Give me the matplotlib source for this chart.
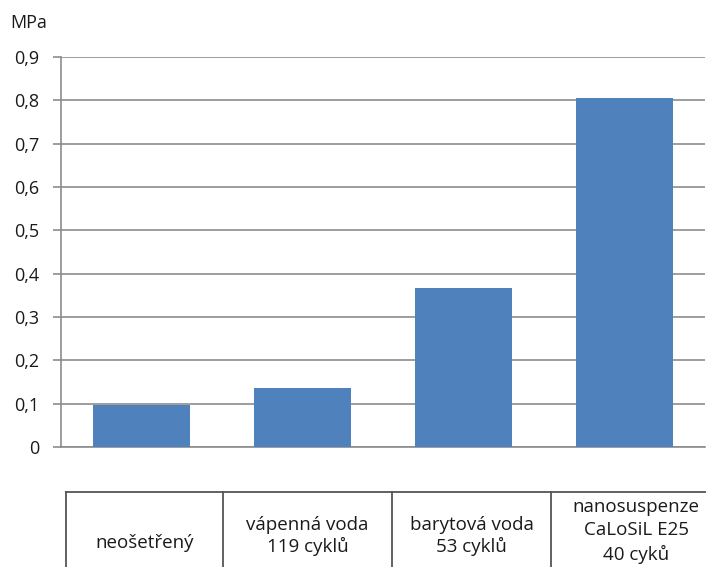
import matplotlib.pyplot as plt
from matplotlib.lines import Line2D
from matplotlib.ticker import FuncFormatter

plt.rcParams['font.family'] = ['Open Sans', 'DejaVu Sans']

categories = ["neošetřený", "vápenná voda\n119 cyklů", "barytová voda\n53 cyklů",
              "nanosuspenze\nCaLoSiL E25\n40 cyků"]
values = [0.097, 0.137, 0.366, 0.805]

W, H = 706, 567
fig = plt.figure(figsize=(W / 100, H / 100), dpi=100)
ax = fig.add_axes([61 / W, 120 / H, 644 / W, 390 / H])

x = range(len(values))
ax.bar(x, values, width=0.6, color="#4F81BD", zorder=3)
ax.set_xlim(-0.5, len(values) - 0.5)
ax.set_ylim(0, 0.9)
ax.set_yticks([i / 10 for i in range(10)])
ax.yaxis.set_major_formatter(FuncFormatter(lambda v, p: "0" if v == 0 else f"{v:.1f}".replace(".", ",")))
ax.grid(axis="y", color="#8c8c8c", linewidth=1.2, zorder=0)
ax.set_xticks([])
for s in ["top", "right"]:
    ax.spines[s].set_visible(False)
ax.spines["left"].set_color("#8c8c8c")
ax.spines["bottom"].set_color("#8c8c8c")
ax.spines["left"].set_linewidth(1.2)
ax.spines["bottom"].set_linewidth(1.2)
ax.tick_params(axis="y", length=6, color="#8c8c8c", width=1.2, pad=9.5, labelsize=13, labelcolor="#1a1a1a")

fig.text(10 / W, 1 - 23 / H, "MPa", fontsize=13, color="#1a1a1a", va="center")

# category table below the chart
col_edges = [66, 223, 392, 551, 730]
top = 492
lc = "#555555"
fig.add_artist(Line2D([66 / W, 1.0], [1 - top / H] * 2, color=lc, lw=1.3))
for xe in col_edges[:-1]:
    fig.add_artist(Line2D([xe / W] * 2, [1 - top / H, 0], color=lc, lw=1.3))

text_y = [543, 536, 536, 531]
line_sp = [1.25, 1.25, 1.25, 1.35]
for i, lab in enumerate(categories):
    cx = (col_edges[i] + col_edges[i + 1]) / 2
    if i == 3:
        cx = 636
    fig.text(cx / W, 1 - text_y[i] / H, lab, ha="center", va="center",
             fontsize=13.5, color="#1a1a1a", linespacing=line_sp[i])

fig.savefig("out.png", dpi=100)
